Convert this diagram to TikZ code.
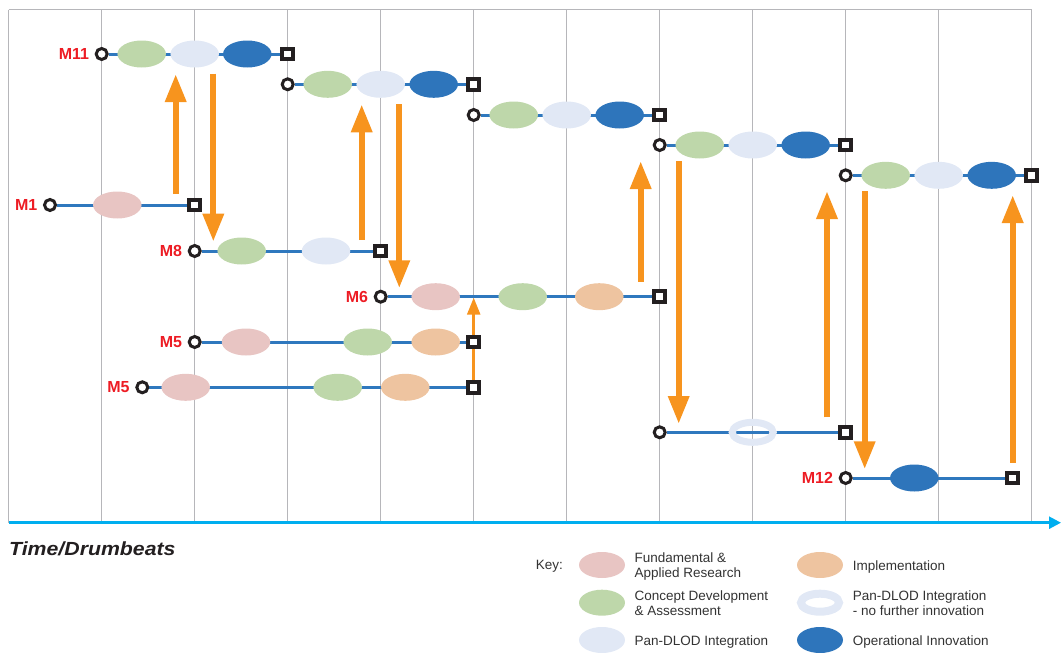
\documentclass[tikz,border=0pt]{standalone}
\usepackage{fontspec}
\setmainfont{Liberation Sans}
\usetikzlibrary{shapes.geometric,arrows.meta}
\pgfdeclarelayer{background}
\pgfsetlayers{background,main}
\definecolor{cfund}{HTML}{E8C5C3}
\definecolor{cconc}{HTML}{BED7AA}
\definecolor{cpint}{HTML}{E1E8F5}
\definecolor{copin}{HTML}{2E75BB}
\definecolor{cimpl}{HTML}{EEC4A0}
\definecolor{cline}{HTML}{2F78BE}
\definecolor{corange}{HTML}{F7941E}
\definecolor{caxis}{HTML}{00AEEF}
\definecolor{cgrid}{HTML}{B6B6BA}
\definecolor{cred}{HTML}{ED1C24}
\definecolor{cdark}{HTML}{231F20}
\definecolor{ctext}{HTML}{333333}
\tikzset{
  startc/.style={circle, draw=cdark, fill=white, line width=3pt, minimum size=11pt, inner sep=0pt},
  endsq/.style={rectangle, draw=cdark, fill=white, line width=4pt, minimum size=10.5pt, inner sep=0pt},
  phase/.style={ellipse, minimum width=48.5pt, minimum height=27pt, inner sep=0pt},
  fund/.style={phase, fill=cfund},
  conc/.style={phase, fill=cconc},
  pint/.style={phase, fill=cpint},
  opin/.style={phase, fill=copin},
  impl/.style={phase, fill=cimpl},
  ringph/.style={ellipse, draw=cpint, line width=7pt, minimum width=41pt, minimum height=20pt, inner sep=0pt},
  mlab/.style={text=cred, font=\fontsize{16}{19}\selectfont\bfseries, inner sep=0pt, label distance=5.5pt},
  tline/.style={draw=cline, line width=3pt},
  bigarr/.style={draw=corange, line width=6.3pt, -{Triangle[width=20pt,length=28pt]}},
  thinarr/.style={draw=corange, line width=2.5pt, -{Triangle[width=13pt,length=17pt]}},
  gridl/.style={draw=cgrid, line width=1.2pt},
  axisl/.style={draw=caxis, line width=2.5pt, -{Triangle[width=12pt,length=12pt]}},
  legt/.style={anchor=base west, inner sep=0pt, text=ctext, font=\fontsize{13.5}{15}\selectfont},
  legph/.style={minimum width=46pt, minimum height=26pt},
}
\begin{document}
\begin{tikzpicture}[x=1pt,y=-1pt]
\useasboundingbox (0,0) rectangle (1061,653);

% ---------- row A (M11)
\node[startc, label={[mlab]left:M11}] (rAs) at (101.7,54) {};
\node[conc] (rA1) at (141.7,54) {};
\node[pint] (rA2) at (194.7,54) {};
\node[opin] (rA3) at (247.3,54) {};
\node[endsq] (rAe) at (287.7,54) {};
% ---------- row B
\node[startc] (rBs) at (287.7,84.3) {};
\node[conc] (rB1) at (327.7,84.3) {};
\node[pint] (rB2) at (380.7,84.3) {};
\node[opin] (rB3) at (433.7,84.3) {};
\node[endsq] (rBe) at (473.7,84.3) {};
% ---------- row C
\node[startc] (rCs) at (473.7,115) {};
\node[conc] (rC1) at (513.7,115) {};
\node[pint] (rC2) at (566.7,115) {};
\node[opin] (rC3) at (619.7,115) {};
\node[endsq] (rCe) at (659.7,115) {};
% ---------- row D
\node[startc] (rDs) at (659.7,145) {};
\node[conc] (rD1) at (699.7,145) {};
\node[pint] (rD2) at (752.7,145) {};
\node[opin] (rD3) at (805.7,145) {};
\node[endsq] (rDe) at (845.7,145) {};
% ---------- row E
\node[startc] (rEs) at (845.7,175.3) {};
\node[conc] (rE1) at (885.7,175.3) {};
\node[pint] (rE2) at (938.7,175.3) {};
\node[opin] (rE3) at (991.7,175.3) {};
\node[endsq] (rEe) at (1031.7,175.3) {};
% ---------- M1
\node[startc, label={[mlab]left:M1}] (m1s) at (50,205) {};
\node[fund] (m11) at (117.3,205) {};
\node[endsq] (m1e) at (194.7,205) {};
% ---------- M8
\node[startc, label={[mlab]left:M8}] (m8s) at (194.7,251) {};
\node[conc] (m81) at (241.7,251) {};
\node[pint] (m82) at (326,251) {};
\node[endsq] (m8e) at (380.7,251) {};
% ---------- M6
\node[startc, label={[mlab]left:M6}] (m6s) at (380.7,296.7) {};
\node[fund] (m61) at (435.7,296.7) {};
\node[conc] (m62) at (522.7,296.7) {};
\node[impl] (m63) at (599.3,296.7) {};
\node[endsq] (m6e) at (659.7,296.7) {};
% ---------- M5 upper
\node[startc, label={[mlab]left:M5}] (m5as) at (194.7,342) {};
\node[fund] (m5a1) at (246,342) {};
\node[conc] (m5a2) at (367.7,342) {};
\node[impl] (m5a3) at (435.7,342) {};
\node[endsq] (m5ae) at (473.7,342) {};
% ---------- M5 lower
\node[startc, label={[mlab]left:M5}] (m5bs) at (142.3,387.3) {};
\node[fund] (m5b1) at (185.7,387.3) {};
\node[conc] (m5b2) at (337.7,387.3) {};
\node[impl] (m5b3) at (405.3,387.3) {};
\node[endsq] (m5be) at (473.7,387.3) {};
% ---------- ring row
\node[startc] (rgs) at (659.7,432.3) {};
\node[ringph] (rg1) at (752.7,432.3) {};
\node[endsq] (rge) at (845.7,432.3) {};
% ---------- M12
\node[startc, label={[mlab]left:M12}] (m12s) at (845.7,478) {};
\node[opin] (m121) at (914.3,478) {};
\node[endsq] (m12e) at (1012.7,478) {};

% ---------- arrow end coordinates
\coordinate (a1a) at (175.7,194);   \coordinate (a1b) at (175.7,74);
\coordinate (a2a) at (213.3,73.7);  \coordinate (a2b) at (213.3,241.7);
\coordinate (a3a) at (361.7,240);   \coordinate (a3b) at (361.7,104.3);
\coordinate (a4a) at (399.3,104);   \coordinate (a4b) at (399.3,288.3);
\coordinate (a5b) at (473.7,297.7);
\coordinate (a6a) at (640.7,281.7); \coordinate (a6b) at (640.7,161);
\coordinate (a7a) at (678.7,161);   \coordinate (a7b) at (678.7,424);
\coordinate (a8a) at (827,417.3);   \coordinate (a8b) at (827,191);
\coordinate (a9a) at (864.7,191);   \coordinate (a9b) at (864.7,469.3);
\coordinate (a10a) at (1012.7,462.7); \coordinate (a10b) at (1012.7,195);
\coordinate (ax0) at (8.7,522.7);   \coordinate (ax1) at (1061,522.7);

\begin{pgfonlayer}{background}
  % grid
  \foreach \k in {0,...,11} \draw[gridl] ({8.7+93*\k},9.5) -- ({8.7+93*\k},522.7);
  \draw[gridl] (8.7,9.5) -- (1031.7,9.5);
  % timelines
  \draw[tline] (rAs) -- (rAe);
  \draw[tline] (rBs) -- (rBe);
  \draw[tline] (rCs) -- (rCe);
  \draw[tline] (rDs) -- (rDe);
  \draw[tline] (rEs) -- (rEe);
  \draw[tline] (m1s) -- (m1e);
  \draw[tline] (m8s) -- (m8e);
  \draw[tline] (m6s) -- (m6e);
  \draw[tline] (m5as) -- (m5ae);
  \draw[tline] (m5bs) -- (m5be);
  \draw[tline] (rgs) -- (rge);
  \draw[tline] (m12s) -- (m12e);
  % arrows
  \draw[bigarr] (a1a) -- (a1b);
  \draw[bigarr] (a2a) -- (a2b);
  \draw[bigarr] (a3a) -- (a3b);
  \draw[bigarr] (a4a) -- (a4b);
  \draw[thinarr] (m5be.center) -- (a5b);
  \draw[bigarr] (a6a) -- (a6b);
  \draw[bigarr] (a7a) -- (a7b);
  \draw[bigarr] (a8a) -- (a8b);
  \draw[bigarr] (a9a) -- (a9b);
  \draw[bigarr] (a10a) -- (a10b);
  % axis
  \draw[axisl] (ax0) -- (ax1);
\end{pgfonlayer}

% ---------- axis title
\node[anchor=base west, inner sep=0pt, text=cdark, font=\fontsize{19}{22}\selectfont\bfseries\itshape] (ttl) at (9,555) {\scalebox{1.12}[1]{Time/Drumbeats}};

% ---------- key
\node[legt] (key) at (535.7,569.3) {Key:};
\node[fund, legph] (k1) at (602,565) {};
\node[legt] (k1t1) at (634.3,562.7) {Fundamental \&};
\node[legt] (k1t2) at (634.3,577.7) {Applied Research};
\node[conc, legph] (k2) at (602,602.7) {};
\node[legt] (k2t1) at (634.3,600.7) {Concept Development};
\node[legt] (k2t2) at (634.3,615.3) {\& Assessment};
\node[pint, legph] (k3) at (602,640) {};
\node[legt] (k3t) at (634.3,645) {Pan-DLOD Integration};
\node[impl, legph] (k4) at (820,565) {};
\node[legt] (k4t) at (852.7,570.7) {Implementation};
\node[ringph, line width=8pt, minimum width=38pt, minimum height=18pt] (k5) at (820,602.7) {};
\node[legt] (k5t1) at (852.7,600.7) {Pan-DLOD Integration};
\node[legt] (k5t2) at (852.7,615.3) {- no further innovation};
\node[opin, legph] (k6) at (820,640) {};
\node[legt] (k6t) at (852.7,645) {Operational Innovation};
\end{tikzpicture}
\end{document}
